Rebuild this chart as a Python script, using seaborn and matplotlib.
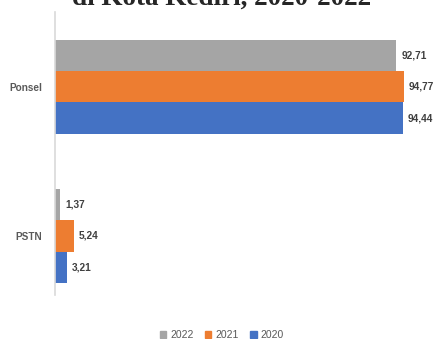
import matplotlib
matplotlib.use("Agg")
import matplotlib.pyplot as plt
import seaborn as sns
import pandas as pd

categories = ["Ponsel", "PSTN"]
years = ["2022", "2021", "2020"]
values_2022 = [92.71, 1.37]
values_2021 = [94.77, 5.24]
values_2020 = [94.44, 3.21]
title = "di Kota Kediri, 2020-2022"

colors = {"2022": "#A5A5A5", "2021": "#ED7D31", "2020": "#4472C4"}

rows = []
for year, vals in zip(years, [values_2022, values_2021, values_2020]):
    for cat, v in zip(categories, vals):
        rows.append({"kategori": cat, "tahun": year, "nilai": v})
df = pd.DataFrame(rows)

sns.set_style("white")
fig = plt.figure(figsize=(4.35, 3.39), dpi=100)
ax = fig.add_axes([55 / 435, 1 - 295 / 339, 370 / 435, 283 / 339])

sns.barplot(data=df, y="kategori", x="nilai", hue="tahun", order=categories,
            hue_order=years, palette=colors, orient="h", width=0.625,
            saturation=1, ax=ax, legend=False, linewidth=0, errorbar=None)

ax.set_xlim(0, 100.5)
ax.set_ylim(1.396, -0.503)
ax.set_xlabel("")
ax.set_ylabel("")
ax.set_xticks([])
for s in ["top", "right", "bottom"]:
    ax.spines[s].set_visible(False)
ax.spines["left"].set_color("#D9D9D9")
ax.spines["left"].set_linewidth(1.2)
ax.tick_params(axis="y", length=0, pad=9)
for lbl in ax.get_yticklabels():
    lbl.set_fontsize(7.2)
    lbl.set_fontweight("bold")
    lbl.set_color("#595959")
    lbl.set_family("Liberation Sans")

for cont in ax.containers:
    labels = [f"{b.get_width():.2f}".replace(".", ",") for b in cont]
    ax.bar_label(cont, labels=labels, padding=3.5, fontsize=7.3, fontweight="bold",
                 color="#404040", family="Liberation Sans")

fig.text(222 / 435, 1 - 5 / 339, title, ha="center", va="baseline",
         fontsize=19.5, fontweight="bold", family="Liberation Serif")

handles = [plt.Rectangle((0, 0), 1, 1, color=colors[y]) for y in years]
fig.legend(handles, years, loc="center", bbox_to_anchor=(0.51, 1 - 335 / 339),
           ncol=3, frameon=False, handlelength=0.6, handleheight=0.6,
           handletextpad=0.4, columnspacing=1.1,
           prop={"family": "Liberation Sans", "size": 7.5})
for t in fig.legends[0].get_texts():
    t.set_color("#595959")

fig.savefig("out.png", dpi=100)
